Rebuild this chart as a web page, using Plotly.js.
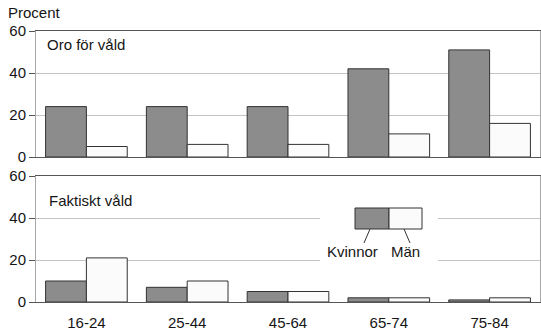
<!DOCTYPE html>
<html>
<head>
<meta charset="utf-8">
<script src="https://cdn.plot.ly/plotly-3.0.1.min.js"></script>
<style>html,body{margin:0;padding:0;background:#fff;}#chart{width:541px;height:332px;}</style>
</head>
<body>
<div id="chart"></div>
<script>
const categories = ["16-24", "25-44", "45-64", "65-74", "75-84"];
const oroKvinnor = [24, 24, 24, 42, 51];
const oroMan = [5, 6, 6, 11, 16];
const faktisktKvinnor = [10, 7, 5, 2, 1];
const faktisktMan = [21, 10, 5, 2, 2];
const yTicks = [0, 20, 40, 60];

const darkFill = "#8c8c8c";
const lightFill = "#fbfbfb";
const edge = "#333";
const font = "Liberation Sans, Arial, Helvetica, sans-serif";
const txt = "#151515";

function bar(x, y, fill, xa, ya, name) {
  return {type: "bar", x: x, y: y, name: name, xaxis: xa, yaxis: ya,
    marker: {color: fill, line: {color: edge, width: 1}}, showlegend: false, hoverinfo: "none"};
}

const data = [
  bar(categories, oroKvinnor, darkFill, "x2", "y2", "Kvinnor"),
  bar(categories, oroMan, lightFill, "x2", "y2", "Män"),
  bar(categories, faktisktKvinnor, darkFill, "x", "y", "Kvinnor"),
  bar(categories, faktisktMan, lightFill, "x", "y", "Män")
];

const yax = (dom) => ({
  domain: dom, range: [0, 60], tickvals: yTicks, ticktext: yTicks.map(String),
  showgrid: true, gridcolor: "#c4c4c4", gridwidth: 1, zeroline: false,
  showline: true, linecolor: "#a8a8a8", linewidth: 1, mirror: true,
  ticks: "outside", ticklen: 6, tickcolor: "#555",
  tickfont: {family: font, size: 15, color: txt}, fixedrange: true
});
const xax = (anchor, labels) => ({
  anchor: anchor, domain: [0, 1], type: "category",
  showline: true, linecolor: "#555", linewidth: 1, mirror: true,
  showticklabels: labels, ticks: "", ticklabelstandoff: 7,
  tickfont: {family: font, size: 15, color: txt},
  fixedrange: true
});

const px = v => (v - 36) / 504;
const py = v => (302 - v) / 271;

const layout = {
  width: 541, height: 332,
  margin: {l: 36, r: 1, t: 31, b: 30},
  paper_bgcolor: "#fff", plot_bgcolor: "rgba(0,0,0,0)",
  barmode: "group", bargap: 0.19, bargroupgap: 0,
  font: {family: font, color: txt},
  xaxis: xax("y", true),
  yaxis: yax([0, 126 / 271]),
  xaxis2: xax("y2", false),
  yaxis2: yax([145 / 271, 1]),
  shapes: [
    {type: "rect", xref: "paper", yref: "paper", x0: px(320), x1: px(438), y0: py(270), y1: py(205),
      fillcolor: "#fff", line: {width: 0}, layer: "above"},
    {type: "rect", xref: "paper", yref: "paper", x0: px(355), x1: px(389), y0: py(229), y1: py(208),
      fillcolor: darkFill, line: {color: edge, width: 1}, layer: "above"},
    {type: "rect", xref: "paper", yref: "paper", x0: px(389), x1: px(422), y0: py(229), y1: py(208),
      fillcolor: lightFill, line: {color: edge, width: 1}, layer: "above"},
    {type: "line", xref: "paper", yref: "paper", x0: px(370), x1: px(364), y0: py(229), y1: py(243),
      line: {color: edge, width: 1}, layer: "above"},
    {type: "line", xref: "paper", yref: "paper", x0: px(404), x1: px(410), y0: py(229), y1: py(243),
      line: {color: edge, width: 1}, layer: "above"}
  ],
  annotations: [
    {text: "Procent", xref: "paper", yref: "paper", x: px(6), y: py(12), xanchor: "left", yanchor: "middle",
      showarrow: false, font: {family: font, size: 15, color: txt}},
    {text: "Oro för våld", xref: "paper", yref: "paper", x: px(45), y: py(45), xanchor: "left", yanchor: "middle",
      showarrow: false, font: {family: font, size: 15, color: txt}},
    {text: "Faktiskt våld", xref: "paper", yref: "paper", x: px(47), y: py(200), xanchor: "left", yanchor: "middle",
      showarrow: false, font: {family: font, size: 15, color: txt}},
    {text: "Kvinnor", xref: "paper", yref: "paper", x: px(352), y: py(251), xanchor: "center", yanchor: "middle",
      showarrow: false, font: {family: font, size: 15, color: txt}},
    {text: "Män", xref: "paper", yref: "paper", x: px(405), y: py(251), xanchor: "center", yanchor: "middle",
      showarrow: false, font: {family: font, size: 15, color: txt}}
  ]
};

Plotly.newPlot("chart", data, layout, {staticPlot: true, displayModeBar: false});
</script>
</body>
</html>
